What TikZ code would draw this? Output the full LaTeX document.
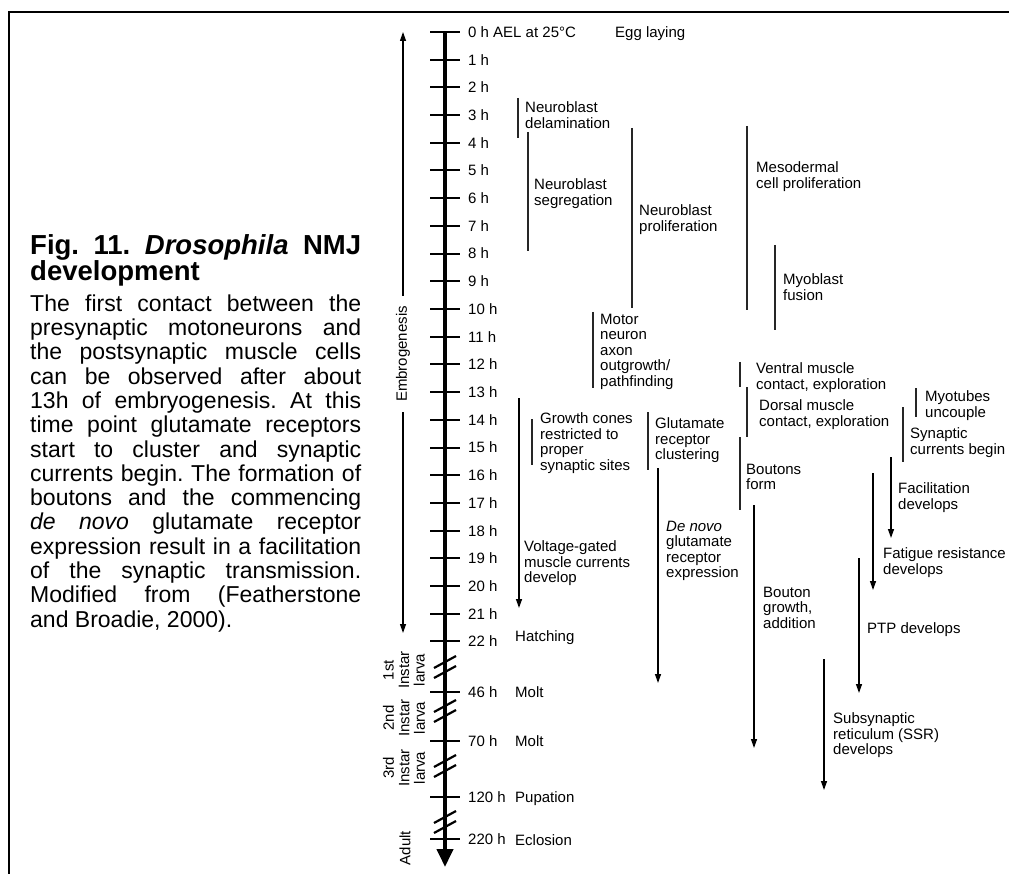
\documentclass[tikz,border=0pt]{standalone}
\usepackage{fontspec}
\setmainfont{Liberation Sans}
\usetikzlibrary{arrows.meta}
\frenchspacing
\tikzset{
  lab/.style={anchor=north west, inner sep=0pt, align=left, font=\fontsize{15}{15.5}\selectfont},
  ticklab/.style={anchor=base west, inner sep=0pt, font=\fontsize{15}{15.5}\selectfont},
  stage/.style={rotate=90, align=center, inner sep=0pt, font=\fontsize{15}{15.5}\selectfont},
  bar/.style={line width=1.6pt, draw=black!85},
  evarrow/.style={line width=1.3pt, -{Triangle[width=6pt,length=9pt]}},
  tickline/.style={line width=2pt},
  breakmark/.style={line width=2.2pt},
}
\newcommand\EvBar[7]{%
  \coordinate (#1a) at (#2,#3);
  \coordinate (#1b) at (#2,#4);
  \draw[bar] (#1a) -- (#1b);
  \node[lab] (#1) at (#5,{#6-5.5}) {#7};
}
\newcommand\EvArr[7]{%
  \coordinate (#1a) at (#2,#3);
  \coordinate (#1b) at (#2,#4);
  \draw[evarrow] (#1a) -- (#1b);
  \node[lab] (#1) at (#5,{#6-5.5}) {#7};
}
\begin{document}
\begin{tikzpicture}[x=1pt,y=-1pt]
\useasboundingbox (0,0) rectangle (1009,874);
% frame
\coordinate (fbl) at (9,874);
\coordinate (ftl) at (9,12);
\coordinate (ftr) at (1009,12);
\draw[line width=2.2pt] (fbl) -- (ftl) -- (ftr);

% caption
\node[anchor=north west, inner sep=0pt, text width=331pt, align=justify,
      font=\fontsize{27.5}{26}\selectfont\bfseries] (title) at (30,234.8)
  {\noindent Fig. 11. \textit{Drosophila} NMJ\linebreak development};
\node[anchor=north west, inner sep=0pt, text width=331pt, align=justify,
      font=\fontsize{23}{24.3}\selectfont] (body) at (30,294.4)
  {\noindent The first contact between the\linebreak
   presynaptic motoneurons and\linebreak
   the postsynaptic muscle cells\linebreak
   can be observed after about\linebreak
   13h of embryogenesis. At this\linebreak
   time point glutamate receptors\linebreak
   start to cluster and synaptic\linebreak
   currents begin. The formation of\linebreak
   boutons and the commencing\linebreak
   \textit{de novo} glutamate receptor\linebreak
   expression result in a facilitation\linebreak
   of the synaptic transmission.\linebreak
   Modified from (Featherstone\linebreak
   and Broadie, 2000).};

% time axis
\coordinate (axtop) at (445,32);
\coordinate (axbot) at (445,867);
\draw[line width=4pt, -{Triangle[width=16pt,length=18pt]}] (axtop) -- (axbot);
\foreach \k in {0,...,22} {
  \coordinate (tl\k) at (430,{32+27.7*\k});
  \coordinate (tr\k) at (460,{32+27.7*\k});
  \draw[tickline] (tl\k) -- (tr\k);
}
\foreach \k in {1,...,22} {
  \node[ticklab] (t\k) at (468,{32+27.7*\k+5.4}) {\k\ h};
}
\node[ticklab] (t0) at (468,37.4) {0 h AEL at 25°C};
\node[ticklab] (egg) at (615,37.4) {Egg laying};
\foreach \v/\yy in {46/692,70/741,120/797,220/839} {
  \coordinate (tl\v) at (430,\yy);
  \coordinate (tr\v) at (460,\yy);
  \draw[tickline] (tl\v) -- (tr\v);
  \node[ticklab] (t\v) at (468,\yy+5.4) {\v\ h};
}
\node[ticklab] (hatch) at (515,641.4) {Hatching};
\node[ticklab] (molt1) at (515,697.4) {Molt};
\node[ticklab] (molt2) at (515,746.4) {Molt};
\node[ticklab] (pup) at (515,802.4) {Pupation};
\node[ticklab] (ecl) at (515,845.4) {Eclosion};

% axis breaks
\foreach \c [count=\i] in {667,711,766,822} {
  \coordinate (ba\i) at (434,\c+1);
  \coordinate (bb\i) at (456,\c-11);
  \coordinate (bc\i) at (434,\c+11);
  \coordinate (bd\i) at (456,\c-1);
  \draw[breakmark] (ba\i) -- (bb\i);
  \draw[breakmark] (bc\i) -- (bd\i);
}

% stages
\node[stage, inner xsep=10pt] (emb) at (403,354) {Embrogenesis};
\coordinate (embtop) at (403,32);
\coordinate (embbot) at (403,633);
\draw[evarrow, line width=1.2pt] (emb.east) -- (embtop);
\draw[evarrow, line width=1.2pt] (emb.west) -- (embbot);
\node[stage] (st1) at (404,670) {1st\\Instar\\larva};
\node[stage] (st2) at (404,718) {2nd\\Instar\\larva};
\node[stage] (st3) at (404,768) {3rd\\Instar\\larva};
\node[stage] (adult) at (405,848) {Adult};

% events: bars
\EvBar{delam}{518}{98}{138}{525}{107}{Neuroblast\\delamination}
\EvBar{segr}{528}{132}{251}{534}{184}{Neuroblast\\segregation}
\EvBar{prolif}{632}{128}{308}{639}{210}{Neuroblast\\proliferation}
\EvBar{motor}{593}{312}{388}{600}{319}{Motor\\neuron\\axon\\outgrowth/\\pathfinding}
\EvBar{meso}{747}{126}{310}{756}{167}{Mesodermal\\cell proliferation}
\EvBar{myob}{775}{245}{330}{783}{279}{Myoblast\\fusion}
\EvBar{ventral}{740}{362}{387}{756}{368}{Ventral muscle\\contact, exploration}
\EvBar{dorsal}{747}{387}{437}{759}{405}{Dorsal muscle\\contact, exploration}
\EvBar{myot}{916}{388}{417}{925}{396}{Myotubes\\uncouple}
\EvBar{syn}{903}{407}{462}{910}{433}{Synaptic\\currents begin}
\EvBar{gluc}{648}{412}{470}{655}{423}{Glutamate\\receptor\\clustering}
\EvBar{bform}{740}{437}{510}{746}{469}{Boutons\\form}
\EvBar{cones}{532}{419}{465}{540}{418}{Growth cones\\restricted to\\proper\\synaptic sites}

% events: arrows
\EvArr{volt}{519}{398}{608}{524}{546}{Voltage-gated\\muscle currents\\develop}
\EvArr{denovo}{658}{468}{683}{666}{526}{\textit{De novo}\\glutamate\\receptor\\expression}
\EvArr{bgrow}{754}{505}{748}{763}{592}{Bouton\\growth,\\addition}
\EvArr{facil}{891}{457}{538}{898}{488}{Facilitation\\develops}
\EvArr{fatig}{873}{473}{590}{883}{553}{Fatigue resistance\\develops}
\EvArr{ptp}{859}{558}{693}{867}{628}{PTP develops}
\EvArr{ssr}{824}{659}{790}{833}{718}{Subsynaptic\\reticulum (SSR)\\develops}
\end{tikzpicture}
\end{document}
